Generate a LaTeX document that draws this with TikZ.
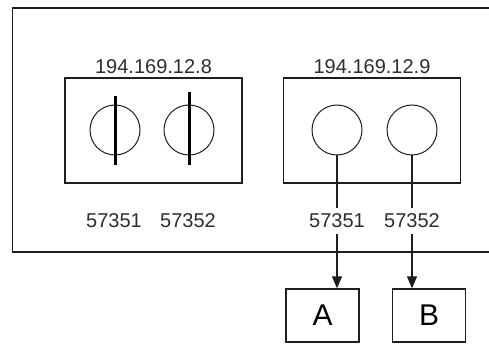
\documentclass[tikz,border=0pt]{standalone}
\usepackage{fontspec}
\setmainfont{Liberation Sans}
\usepackage{tikz}
\usetikzlibrary{arrows.meta, positioning, calc}
\definecolor{mydark}{RGB}{30,30,30}
\definecolor{mytext}{RGB}{45,45,45}
\tikzset{
  hostbox/.style={rectangle, draw=mydark, line width=1.3pt,
    minimum width=177pt, minimum height=105pt, inner sep=0pt},
  port/.style={circle, draw=mydark, line width=1pt,
    minimum size=50pt, inner sep=0pt},
  iplabel/.style={font=\fontsize{20}{20}\selectfont, text=mytext,
    anchor=south, inner sep=3.5pt},
  portlabel/.style={font=\fontsize{20}{20}\selectfont, text=mytext,
    inner sep=6pt},
  target/.style={rectangle, draw=mydark, line width=1.3pt,
    minimum width=73pt, minimum height=53pt, inner sep=0pt,
    font=\fontsize{30}{30}\selectfont},
  blocked/.style={line width=3pt, color=black},
  arrow/.style={-{Triangle[width=10pt,length=12pt]}, line width=1.3pt, color=mydark},
  line/.style={line width=1.3pt, color=mydark}
}

\begin{document}
\begin{tikzpicture}[x=1pt, y=-1pt]
  \useasboundingbox (0,0) rectangle (489,344);
  % outer frame, open on the right
  \draw[line, line width=1.8pt] (489,8) -- (12.5,8) -- (12.5,252) -- (489,252);

  % first host
  \node[hostbox] (host1) at (153.5,130.5) {};
  \node[iplabel] (ip1) at (host1.north) {194.169.12.8};
  \node[port] (p1) at (115,130) {};
  \node[port] (p2) at (189,130) {};
  \draw[blocked] ([yshift=8pt]p1.north) -- ([yshift=-10pt]p1.south);
  \draw[blocked] ([yshift=12pt]p2.north) -- ([yshift=-10pt]p2.south);
  \node[portlabel] (l1) at (114,221) {57351};
  \node[portlabel] (l2) at (188,221) {57352};

  % second host
  \node[hostbox] (host2) at (372,130.5) {};
  \node[iplabel] (ip2) at (host2.north) {194.169.12.9};
  \node[port] (p3) at (337,130) {};
  \node[port] (p4) at (412,130) {};
  \node[portlabel] (l3) at (337,221) {57351};
  \node[portlabel] (l4) at (412,221) {57352};
  \draw[line] (p3.south) -- (l3.north);
  \draw[line] (p4.south) -- (l4.north);

  % targets
  \node[target] (a) at (322.5,315.5) {A};
  \node[target] (b) at (429,315.5) {B};
  \draw[arrow] (l3.south) -- (l3.south |- a.north);
  \draw[arrow] (l4.south) -- (l4.south |- b.north);
\end{tikzpicture}
\end{document}
